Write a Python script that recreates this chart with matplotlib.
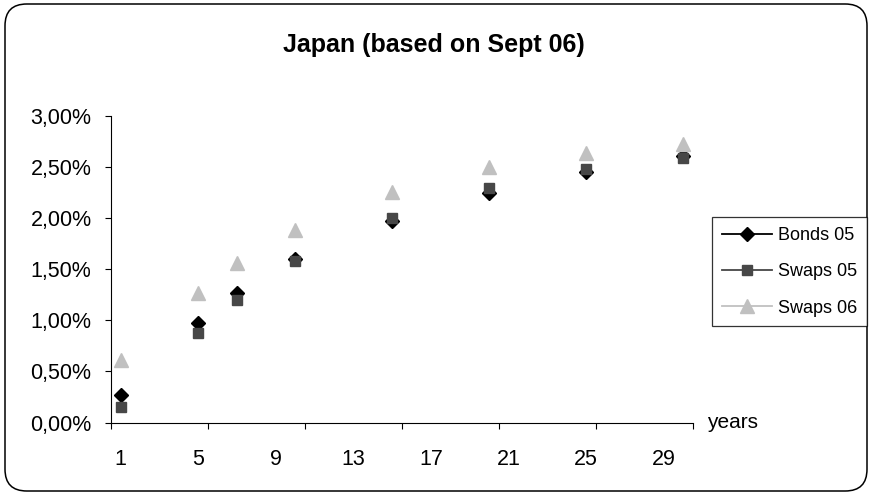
import matplotlib
matplotlib.use("Agg")
import matplotlib.pyplot as plt
from matplotlib.patches import FancyBboxPatch
from matplotlib.ticker import FixedLocator, FuncFormatter, NullFormatter

plt.rcParams['font.family'] = ['Liberation Sans', 'DejaVu Sans']

# Data (maturity in years, rates in %)
years = [1, 5, 7, 10, 15, 20, 25, 30]
bonds_05 = [0.27, 0.97, 1.27, 1.60, 1.97, 2.24, 2.45, 2.61]
swaps_05 = [0.15, 0.88, 1.20, 1.58, 2.00, 2.29, 2.48, 2.59]
swaps_06 = [0.61, 1.27, 1.56, 1.88, 2.25, 2.50, 2.64, 2.72]
x_labels = [1, 5, 9, 13, 17, 21, 25, 29]
y_ticks = [0, 0.5, 1.0, 1.5, 2.0, 2.5, 3.0]

fig = plt.figure(figsize=(8.7, 4.95), dpi=100)
ax = fig.add_axes([111 / 870, 72.5 / 495, 582 / 870, 306.8 / 495])

# Rounded chart border
border = FancyBboxPatch((5 / 870, 4 / 495), 862 / 870, 487 / 495,
                        boxstyle="round,pad=0,rounding_size=0.025",
                        mutation_aspect=870 / 495, transform=fig.transFigure,
                        facecolor='none', edgecolor='black', linewidth=1.1)
fig.patches.append(border)

# Series (markers only, lines shown in legend)
ax.plot(years, bonds_05, linestyle='none', marker='D', markersize=6.8,
        color='black', label='Bonds 05')
ax.plot(years, swaps_05, linestyle='none', marker='s', markersize=7.5,
        color='#474747', label='Swaps 05')
ax.plot(years, swaps_06, linestyle='none', marker='^', markersize=9.5,
        color='#c0c0c0', label='Swaps 06')

ax.set_xlim(0.5, 30.5)
ax.set_ylim(0, 3.0)

# x axis: tick marks every 5 categories, labels every 4
ax.xaxis.set_major_locator(FixedLocator([0.5 + 5 * i for i in range(7)]))
ax.xaxis.set_major_formatter(NullFormatter())
ax.xaxis.set_minor_locator(FixedLocator(x_labels))
ax.xaxis.set_minor_formatter(FuncFormatter(lambda v, p: f"{int(round(v))}"))
ax.tick_params(axis='x', which='major', direction='out', length=4.5, width=0.8)
ax.tick_params(axis='x', which='minor', length=0, pad=19, labelsize=15.5)

ax.set_yticks(y_ticks)
ax.yaxis.set_major_formatter(FuncFormatter(lambda v, p: f"{v:.2f}%".replace('.', ',')))
ax.tick_params(axis='y', direction='out', length=4.5, width=0.8, pad=9.5, labelsize=15.5)

for side in ['top', 'right']:
    ax.spines[side].set_visible(False)
for side in ['left', 'bottom']:
    ax.spines[side].set_linewidth(0.8)

ax.annotate('years', xy=(1, 0), xycoords='axes fraction', xytext=(10, 0),
            textcoords='offset points', va='center', ha='left', fontsize=15)

fig.text(434 / 870, 1 - 45 / 495, 'Japan (based on Sept 06)', ha='center', va='center',
         fontsize=18, fontweight='bold')

leg = fig.legend(loc='upper left', bbox_to_anchor=(712 / 870, 1 - 217 / 495),
                 fontsize=13, frameon=True, fancybox=False, edgecolor='black',
                 handlelength=2.8, handletextpad=0.3, labelspacing=1.07,
                 borderpad=0.55, borderaxespad=0)
leg.get_frame().set_linewidth(0.9)
for line in leg.get_lines():
    line.set_linestyle('-')
    line.set_linewidth(1.3)

fig.savefig('out.png', dpi=100)
